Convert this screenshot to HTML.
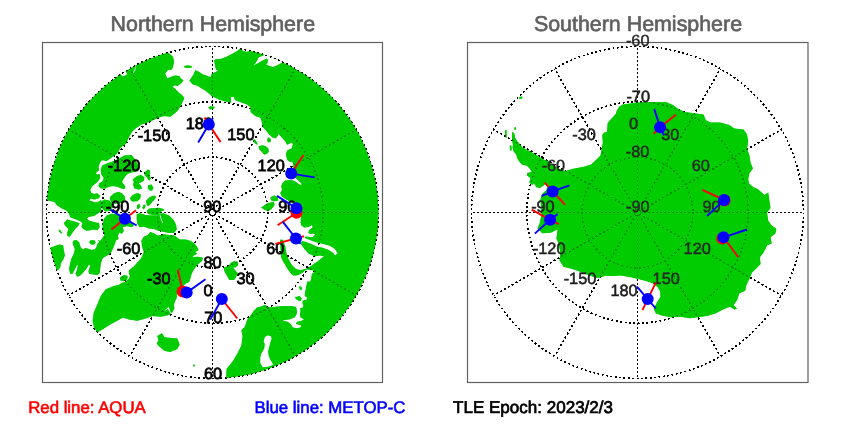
<!DOCTYPE html>
<html><head><meta charset="utf-8"><title>Hemispheres</title>
<style>
html,body{margin:0;padding:0;background:#fff;}
svg{display:block;font-family:"Liberation Sans",sans-serif;}
text{text-rendering:geometricPrecision;}
</style></head><body>
<svg width="850" height="425" viewBox="0 0 850 425">
<rect width="850" height="425" fill="#fff"/>
<defs>
<mask id="mn" maskUnits="userSpaceOnUse" x="0" y="0" width="850" height="425"><rect width="850" height="425" fill="#000"/>
<path d="M260.0,30.0 L250.0,50.8 L246.5,52.0 L242.9,50.8 L240.0,48.5 L237.6,50.8 L232.4,53.8 L226.5,56.7 L220.6,59.1 L215.9,59.1 L214.1,60.8 L215.0,65.0 L215.9,69.6 L218.2,70.8 L211.8,73.8 L210.6,77.3 L207.6,76.1 L202.9,74.4 L199.4,72.0 L195.3,70.2 L193.5,74.4 L189.4,80.8 L192.9,84.4 L197.1,85.5 L201.0,88.0 L205.9,91.0 L211.8,96.1 L218.8,99.6 L227.1,102.0 L231.2,102.6 L230.8,97.3 L233.5,96.7 L235.3,100.2 L238.8,101.4 L247.1,104.4 L250.6,107.3 L250.6,112.0 L255.3,116.0 L260.5,117.7 L261.8,122.0 L262.6,126.8 L265.5,129.8 L268.8,134.1 L272.4,137.6 L275.9,138.2 L278.8,134.1 L281.8,137.6 L285.3,141.2 L287.1,144.7 L291.8,142.4 L292.9,144.1 L291.8,148.2 L287.1,150.6 L285.9,154.5 L287.4,160.2 L290.6,162.1 L292.4,161.5 L293.5,165.6 L292.0,172.0 L295.9,177.9 L298.2,180.3 L301.2,183.2 L301.8,185.4 L299.4,184.6 L296.5,182.3 L292.9,180.6 L289.4,179.9 L285.3,180.6 L282.4,183.2 L281.2,186.2 L282.1,189.7 L280.3,193.0 L281.8,196.5 L287.1,200.0 L290.6,201.8 L296.0,206.0 L301.2,216.5 L300.6,221.8 L301.2,225.3 L304.1,227.6 L308.2,227.1 L311.8,225.3 L312.9,227.1 L309.4,230.0 L308.2,232.4 L310.6,234.1 L313.5,233.5 L315.3,234.7 L312.9,237.1 L309.4,237.1 L305.9,236.5 L304.1,238.2 L301.2,242.6 L301.2,244.4 L304.1,248.5 L308.2,253.2 L312.9,255.6 L315.3,256.2 L320.0,255.6 L324.1,256.2 L321.2,258.5 L317.6,261.5 L314.1,263.8 L310.6,266.2 L305.9,269.1 L308.2,269.7 L312.9,270.3 L314.5,272.0 L311.8,274.1 L311.2,279.4 L310.0,281.8 L307.6,281.2 L306.5,285.3 L305.3,291.2 L304.7,295.9 L307.1,297.6 L306.5,300.0 L302.9,300.6 L302.4,302.9 L298.0,304.0 L295.9,307.1 L291.2,305.9 L284.1,305.9 L277.1,306.5 L271.2,307.6 L267.6,307.1 L265.3,304.7 L261.2,306.5 L257.1,307.6 L253.5,311.2 L250.0,316.5 L247.3,319.6 L244.9,326.7 L241.4,330.2 L242.6,336.1 L241.4,345.5 L237.9,352.6 L233.2,360.8 L226.6,369.1 L226.1,378.5 L225.0,400.0 L420.0,400.0 L420.0,30.0Z" fill="#fff"/>
<path d="M253.3,65.5 L256.1,62.2 L258.5,57.5 L263.6,55.2 L266.9,54.0 L275.0,48.0 L292.0,58.0 L284.5,61.5 L283.4,62.2 L279.6,64.1 L275.9,66.0 L273.0,66.9 L269.3,66.0 L266.0,64.6 L267.4,63.2 L267.9,60.3 L266.9,58.5 L262.2,60.8 L258.0,63.2Z" fill="#000"/>
<path d="M302.4,237.0 L308.2,239.2 L315.3,242.0 L322.4,243.8 L329.4,245.6 L334.5,248.6 L337.8,253.2 L335.3,255.4 L332.5,252.5 L328.2,249.7 L322.4,247.8 L316.5,246.6 L310.6,243.8 L305.9,242.0 L302.0,241.0Z" fill="#000"/>
<path d="M303.5,305.3 L302.9,307.6 L300.0,308.2 L300.6,310.6 L300.0,314.7 L300.6,317.6 L304.1,319.2 L301.8,320.8 L297.1,321.8 L295.9,323.9 L299.4,324.7 L301.2,325.3 L300.6,327.4 L296.5,328.2 L292.9,327.6 L290.6,324.1 L287.6,321.8 L282.4,320.8 L284.1,320.0 L290.0,319.2 L294.7,317.3 L296.3,314.7 L297.0,312.4 L296.7,309.6 L295.9,307.1 L298.0,303.0 L302.4,302.9Z" fill="#000"/>
<path d="M264.7,337.1 L267.6,335.3 L270.6,335.9 L271.8,338.2 L270.6,341.8 L269.4,346.5 L268.2,351.2 L268.8,355.9 L270.6,360.0 L273.6,364.8 L268.5,366.7 L262.6,367.2 L260.2,363.2 L260.2,357.3 L261.2,353.5 L264.1,348.8 L264.7,344.1 L263.5,341.8Z" fill="#000"/>
<path d="M184.1,66.1 L188.0,65.3 L191.8,66.3 L191.5,67.8 L187.0,68.0 L184.5,67.5Z" fill="#fff"/>
<path d="M208.2,107.3 L211.0,106.2 L214.7,106.7 L214.1,108.5 L210.0,109.6Z" fill="#fff"/>
<path d="M252.7,140.0 L254.7,139.4 L257.1,142.4 L257.6,144.7 L255.9,144.1 L253.5,141.8Z" fill="#fff"/>
<path d="M267.3,138.8 L268.8,137.3 L270.8,139.4 L270.8,141.5 L268.8,142.4 L267.3,141.2Z" fill="#fff"/>
<path d="M258.6,146.5 L261.8,145.3 L265.3,145.9 L268.2,148.2 L268.8,151.8 L266.5,154.1 L264.1,154.5 L261.8,151.8 L259.4,149.4Z" fill="#fff"/>
<path d="M270.4,197.6 L274.1,195.6 L277.6,197.1 L278.2,200.6 L274.7,201.2 L271.2,200.4Z" fill="#fff"/>
<path d="M261.2,207.6 L267.1,203.5 L273.5,201.8 L274.7,204.7 L271.8,208.8 L268.2,211.2 L264.1,209.4Z" fill="#fff"/>
<path d="M280.0,239.7 L280.4,246.8 L281.2,257.4 L283.5,262.1 L287.6,269.1 L291.2,273.8 L293.5,275.6 L295.9,275.6 L299.4,274.4 L302.9,272.6 L305.3,270.3 L308.8,267.9 L305.3,269.1 L300.6,270.3 L295.9,269.1 L291.8,265.0 L288.8,259.7 L286.5,253.8 L285.3,246.8 L282.9,239.7Z" fill="#fff"/>
<path d="M299.0,286.5 L301.5,286.8 L302.0,289.5 L300.0,290.0Z" fill="#fff"/>
<path d="M294.7,297.6 L299.4,295.9 L301.8,298.2 L300.6,301.2 L297.1,300.0Z" fill="#fff"/>
<path d="M223.5,267.6 L228.8,265.9 L230.6,262.9 L234.1,261.2 L237.6,261.8 L238.2,265.3 L235.3,267.6 L232.9,267.6 L235.3,270.6 L237.6,272.9 L236.0,277.0 L234.1,280.0 L229.4,280.0 L227.1,275.9 L224.7,271.8Z" fill="#fff"/>
<path d="M150.0,30.0 L168.2,52.6 L172.9,56.7 L174.1,61.4 L172.9,67.3 L171.8,69.6 L167.6,70.2 L165.1,73.8 L167.4,78.5 L171.2,76.7 L175.3,75.5 L179.4,75.9 L180.8,78.5 L183.5,80.2 L181.2,83.2 L177.6,86.1 L174.7,85.3 L172.4,86.7 L175.3,89.1 L178.5,92.6 L182.0,94.9 L184.4,98.0 L183.2,100.8 L180.8,105.5 L178.0,110.2 L174.2,113.8 L170.2,116.8 L164.4,116.1 L159.6,117.3 L154.5,119.6 L147.9,122.5 L140.8,124.8 L134.2,129.5 L132.0,132.0 L128.5,137.9 L126.1,143.8 L122.6,146.1 L120.2,147.9 L118.5,151.4 L115.5,154.9 L112.0,157.3 L109.6,159.1 L106.1,161.2 L103.8,160.2 L101.4,160.5 L99.6,163.5 L98.5,167.0 L99.1,170.2 L96.3,172.6 L95.8,174.0 L98.0,174.5 L99.9,174.1 L100.2,178.0 L98.5,180.8 L95.5,183.5 L92.0,186.3 L90.2,190.0 L91.2,192.9 L94.4,193.9 L97.1,193.2 L100.2,196.0 L98.8,198.2 L94.4,199.6 L90.5,198.6 L89.2,200.4 L92.6,201.4 L95.2,202.6 L98.7,201.4 L101.2,200.0 L101.4,203.8 L101.4,206.7 L100.8,211.4 L97.3,213.8 L93.8,216.1 L89.1,216.7 L86.7,218.5 L89.1,220.8 L93.8,222.0 L99.1,223.2 L99.6,227.3 L97.3,230.2 L93.8,229.6 L90.2,230.2 L86.7,230.8 L83.2,229.1 L81.4,226.7 L82.6,223.2 L80.8,221.4 L76.1,219.6 L70.2,217.3 L69.1,213.8 L66.7,210.8 L62.0,208.5 L57.3,205.5 L54.4,202.0 L46.0,200.0 L20.0,200.0 L20.0,30.0Z" fill="#fff"/>
<path d="M120.5,73.2 L125.4,69.6 L126.4,72.0 L127.2,74.6 L124.0,76.0 L122.0,76.5Z" fill="#000"/>
<path d="M134.4,65.4 L135.6,66.0 L135.5,70.0 L133.3,73.3 L132.8,72.5 L134.6,69.5Z" fill="#000"/>
<path d="M102.2,165.5 L107.3,163.2 L112.6,161.4 L117.3,159.6 L124.4,155.5 L131.4,154.9 L134.4,158.5 L137.3,163.8 L139.1,169.6 L136.1,171.4 L131.4,172.6 L127.9,173.8 L125.5,176.1 L123.2,179.6 L122.0,182.0 L123.8,184.4 L125.5,186.7 L124.4,189.1 L121.4,188.5 L117.3,186.7 L112.6,186.1 L109.1,186.7 L104.9,188.5 L100.8,188.5 L98.5,186.1 L99.1,183.2 L102.6,181.4 L103.8,177.9 L101.4,174.4 L100.8,169.6Z" fill="#fff"/>
<path d="M132.6,179.6 L137.3,176.1 L140.8,174.9 L144.4,177.3 L143.8,180.8 L140.8,182.6 L138.5,183.2 L140.8,185.5 L142.0,188.5 L138.5,189.6 L134.4,188.5 L133.2,184.9 L133.8,182.0Z" fill="#fff"/>
<path d="M144.4,172.6 L147.9,169.6 L150.2,170.8 L149.6,174.9 L150.8,178.5 L149.1,180.8 L146.7,177.3 L144.9,175.5Z" fill="#fff"/>
<path d="M147.9,185.5 L151.4,184.4 L153.2,187.3 L152.6,190.2 L150.2,190.8 L147.9,188.5Z" fill="#fff"/>
<path d="M110.2,196.7 L113.8,193.4 L118.5,191.8 L122.0,193.4 L124.6,196.1 L125.1,199.3 L123.2,202.0 L119.6,203.2 L114.9,203.8 L111.4,202.6 L110.0,199.6Z" fill="#fff"/>
<path d="M130.2,197.9 L132.6,194.9 L137.3,192.9 L140.8,194.4 L140.2,198.5 L137.3,201.2 L132.6,201.6 L130.8,200.2Z" fill="#fff"/>
<path d="M146.1,200.8 L149.6,197.3 L153.8,195.5 L155.9,196.5 L155.2,198.8 L152.6,201.4 L150.8,203.8 L148.8,205.9 L146.9,205.2 L146.5,203.2Z" fill="#fff"/>
<path d="M101.4,201.4 L104.4,199.6 L109.1,200.5 L112.0,203.2 L112.6,207.3 L110.2,210.8 L105.5,211.4 L102.6,209.1 L101.4,204.9Z" fill="#fff"/>
<path d="M146.9,210.4 L149.3,208.5 L154.0,208.2 L158.7,207.8 L163.4,209.1 L163.9,210.4 L161.5,211.3 L159.6,213.2 L157.8,215.1 L154.0,215.5 L150.2,214.6 L147.4,213.2Z" fill="#fff"/>
<path d="M142.6,207.3 L143.8,204.4 L145.5,204.9 L144.9,207.9 L143.2,209.6Z" fill="#fff"/>
<path d="M137.3,204.9 L139.6,203.8 L140.2,206.7 L138.5,209.1 L136.7,208.5Z" fill="#fff"/>
<path d="M136.7,214.4 L139.6,213.2 L145.5,214.9 L151.4,215.5 L157.3,215.5 L159.6,213.8 L163.2,213.2 L169.1,215.5 L173.8,220.2 L176.1,224.9 L176.7,229.6 L173.8,232.9 L169.1,232.9 L163.2,231.8 L158.5,230.8 L153.8,229.1 L149.1,228.5 L144.4,226.7 L139.6,227.3 L137.3,223.8 L136.7,219.1Z" fill="#fff"/>
<path d="M159.4,214.8 L160.3,214.4 L162.0,220.0 L163.5,223.3 L162.7,223.6 L161.0,220.2Z" fill="#000"/>
<path d="M103.8,219.1 L106.7,215.5 L111.4,213.8 L117.3,214.4 L122.0,215.5 L129.1,219.1 L133.8,226.1 L131.4,227.3 L127.3,226.1 L122.6,227.3 L123.8,230.8 L122.0,233.8 L119.1,232.6 L117.9,236.1 L118.5,239.0 L116.1,240.2 L114.4,244.9 L112.6,249.6 L110.2,253.8 L107.3,255.5 L103.8,257.3 L102.0,259.6 L100.8,263.8 L100.2,268.5 L99.6,273.2 L97.3,274.9 L93.8,274.4 L89.1,273.8 L88.5,271.4 L90.2,265.5 L89.1,264.4 L86.1,269.1 L83.2,272.6 L80.2,275.5 L77.3,276.7 L75.5,273.8 L77.3,269.1 L77.9,264.4 L76.7,265.5 L74.9,269.1 L72.6,273.8 L70.2,273.8 L69.1,269.1 L70.2,263.2 L71.4,258.5 L73.8,253.8 L74.9,249.1 L73.3,245.3 L72.6,242.5 L74.0,240.3 L76.8,240.3 L79.3,242.5 L79.6,244.6 L81.1,248.1 L83.2,249.5 L85.3,248.1 L88.1,248.8 L91.6,249.9 L95.2,249.2 L96.6,246.7 L97.3,243.9 L99.4,241.8 L98.0,240.3 L100.5,240.7 L102.2,238.2 L104.3,235.4 L103.6,232.6 L102.6,228.4 L102.6,224.9Z" fill="#fff"/>
<path d="M63.8,223.2 L67.3,219.6 L71.4,220.8 L76.1,222.0 L79.6,223.2 L78.5,225.5 L75.5,228.5 L72.6,232.6 L69.6,236.7 L67.3,236.1 L67.3,232.6 L68.5,229.1 L65.5,226.1Z" fill="#fff"/>
<path d="M58.5,229.6 L60.2,230.2 L62.6,233.2 L60.8,233.2 L59.1,231.4Z" fill="#fff"/>
<path d="M89.2,242.3 L90.3,240.5 L92.4,240.0 L94.6,240.6 L95.6,242.3 L94.6,244.2 L92.4,244.7 L90.3,244.1Z" fill="#fff"/>
<path d="M49.6,247.9 L54.9,246.1 L59.6,244.4 L63.2,245.5 L63.8,250.2 L64.9,255.5 L63.2,259.6 L60.8,263.2 L60.2,267.3 L58.5,269.6 L56.7,270.8 L49.1,272.6 L42.0,253.8 L44.4,246.7Z" fill="#fff"/>
<path d="M137.9,262.0 L141.4,257.9 L143.8,252.0 L142.0,246.1 L141.4,240.8 L143.8,236.7 L147.9,234.9 L150.2,232.0 L153.8,233.2 L157.3,235.5 L161.4,234.9 L163.2,234.2 L169.1,235.0 L173.8,235.2 L176.1,236.7 L179.6,239.6 L185.5,239.6 L190.2,240.8 L194.9,243.8 L197.3,247.3 L198.5,250.2 L194.9,252.0 L197.3,253.8 L193.8,255.5 L192.6,257.3 L197.3,256.7 L200.8,257.3 L203.2,257.9 L202.0,260.8 L197.3,264.9 L193.8,269.6 L191.4,274.4 L190.2,279.1 L189.1,282.0 L186.1,283.2 L182.0,287.0 L177.3,292.0 L176.7,297.9 L174.9,301.4 L173.8,304.9 L174.4,308.5 L172.6,312.0 L169.1,314.9 L160.8,316.7 L152.6,316.1 L145.5,318.5 L137.3,320.8 L129.1,319.6 L123.0,317.4 L117.3,320.8 L110.2,324.4 L103.2,329.1 L97.3,332.6 L94.2,327.9 L92.6,320.8 L93.8,312.6 L97.3,304.4 L100.8,296.1 L105.5,289.6 L109.0,288.0 L113.8,286.1 L118.5,284.9 L122.0,282.8 L124.4,282.3 L129.0,278.8 L129.9,276.1 L128.8,273.2 L129.0,270.2 L133.8,266.5 L136.0,264.0Z" fill="#fff"/>
<path d="M164.5,310.4 L168.3,307.0 L169.2,307.5 L170.0,310.8 L171.8,313.6 L171.0,314.0 L169.0,311.2 L167.8,308.8 L165.0,311.0Z" fill="#000"/>
<path d="M120.2,277.3 L124.4,274.9 L127.7,276.1 L127.2,279.4 L123.2,281.2 L120.2,280.2Z" fill="#fff"/>
<path d="M157.3,336.1 L162.0,333.3 L164.4,337.3 L171.4,338.0 L177.3,338.5 L179.6,344.4 L177.3,349.1 L170.2,351.9 L164.4,350.7 L159.6,346.7 L156.6,343.6 L158.5,340.4Z" fill="#fff"/>
<path d="M193.0,364.8 L194.8,364.8 L194.8,366.3 L193.0,366.3Z" fill="#fff"/>
</mask>
<mask id="ms" maskUnits="userSpaceOnUse" x="0" y="0" width="850" height="425"><rect width="850" height="425" fill="#000"/>
<path d="M512.5,131.8 L514.4,133.6 L514.9,137.4 L517.2,141.2 L520.5,144.9 L522.0,147.3 L525.2,148.9 L529.9,151.2 L534.6,154.1 L539.4,156.9 L544.1,159.7 L546.9,160.6 L552.0,164.5 L558.0,168.5 L565.7,171.0 L570.4,169.6 L574.6,168.5 L584.1,166.8 L591.1,164.5 L595.8,160.2 L600.5,155.5 L601.7,148.5 L602.9,142.6 L602.5,138.0 L602.2,135.0 L604.1,132.6 L606.9,132.2 L607.4,127.5 L607.6,123.2 L610.2,119.9 L613.1,117.1 L615.9,113.8 L616.8,110.5 L619.2,106.8 L622.9,104.4 L628.8,103.8 L638.2,102.6 L647.6,101.9 L657.0,101.9 L666.4,102.3 L672.9,104.9 L677.6,108.5 L684.6,112.0 L694.1,113.2 L703.5,114.4 L705.8,120.2 L710.5,122.6 L719.9,122.6 L729.4,124.9 L734.1,128.5 L743.5,129.6 L747.0,134.4 L748.2,141.4 L747.0,148.5 L749.4,155.5 L750.5,162.6 L752.9,168.5 L749.4,173.2 L748.2,179.1 L749.0,183.5 L753.0,187.0 L757.6,189.1 L764.6,194.9 L768.2,192.6 L769.4,200.8 L770.5,207.9 L767.0,212.6 L768.2,220.8 L771.7,225.5 L776.4,229.1 L775.2,233.8 L770.5,237.3 L771.7,243.2 L767.0,245.5 L763.5,252.6 L759.9,257.3 L760.5,264.0 L756.2,268.5 L752.0,272.4 L749.6,278.5 L746.4,284.9 L745.2,290.8 L739.4,293.2 L737.0,300.2 L733.5,304.9 L737.0,308.5 L734.6,309.6 L729.9,306.8 L722.9,309.6 L715.8,313.2 L708.8,315.5 L699.4,316.9 L689.9,318.2 L680.5,316.8 L671.1,317.2 L661.7,315.5 L655.8,313.2 L653.7,308.5 L657.0,302.6 L660.5,296.7 L660.0,290.8 L657.0,286.5 L652.3,282.9 L645.2,280.8 L638.2,279.1 L629.9,276.9 L620.5,275.5 L612.3,276.0 L605.2,275.8 L600.5,277.5 L596.4,277.9 L587.0,274.4 L577.6,270.8 L570.5,268.5 L563.5,266.8 L559.5,260.2 L560.5,253.2 L558.5,243.2 L556.4,238.5 L557.6,229.6 L550.5,232.7 L542.3,233.2 L537.6,228.5 L539.9,222.6 L541.5,214.4 L541.1,207.3 L540.5,199.1 L542.3,193.8 L546.0,190.5 L547.5,187.0 L545.8,183.8 L543.5,185.5 L539.9,187.9 L536.4,187.3 L534.1,183.2 L532.3,184.9 L529.4,182.6 L530.5,177.9 L527.0,175.5 L527.1,172.9 L531.8,171.9 L530.4,169.6 L527.1,165.8 L521.9,164.4 L519.6,162.1 L517.2,158.3 L516.3,154.5 L513.5,151.2 L512.5,147.0 L513.0,144.9 L512.1,140.2 L512.1,133.6Z" fill="#fff"/>
<path d="M509.7,145.6 L511.4,145.4 L511.6,150.4 L510.0,150.6Z" fill="#fff"/>
<path d="M505.0,130.0 L506.5,130.0 L506.8,137.5 L505.3,137.5Z" fill="#fff"/>
<path d="M514.4,127.2 L516.0,127.2 L516.0,129.8 L514.4,129.8Z" fill="#fff"/>
<path d="M519.2,97.0 L522.2,96.6 L522.3,98.6 L519.4,99.0Z" fill="#fff"/>
</mask>
<clipPath id="cn"><circle cx="212.5" cy="212.5" r="166"/></clipPath>
<clipPath id="cs"><circle cx="637.5" cy="212.5" r="166"/></clipPath>
</defs>
<g clip-path="url(#cn)">
<path d="M260.0,30.0 L250.0,50.8 L246.5,52.0 L242.9,50.8 L240.0,48.5 L237.6,50.8 L232.4,53.8 L226.5,56.7 L220.6,59.1 L215.9,59.1 L214.1,60.8 L215.0,65.0 L215.9,69.6 L218.2,70.8 L211.8,73.8 L210.6,77.3 L207.6,76.1 L202.9,74.4 L199.4,72.0 L195.3,70.2 L193.5,74.4 L189.4,80.8 L192.9,84.4 L197.1,85.5 L201.0,88.0 L205.9,91.0 L211.8,96.1 L218.8,99.6 L227.1,102.0 L231.2,102.6 L230.8,97.3 L233.5,96.7 L235.3,100.2 L238.8,101.4 L247.1,104.4 L250.6,107.3 L250.6,112.0 L255.3,116.0 L260.5,117.7 L261.8,122.0 L262.6,126.8 L265.5,129.8 L268.8,134.1 L272.4,137.6 L275.9,138.2 L278.8,134.1 L281.8,137.6 L285.3,141.2 L287.1,144.7 L291.8,142.4 L292.9,144.1 L291.8,148.2 L287.1,150.6 L285.9,154.5 L287.4,160.2 L290.6,162.1 L292.4,161.5 L293.5,165.6 L292.0,172.0 L295.9,177.9 L298.2,180.3 L301.2,183.2 L301.8,185.4 L299.4,184.6 L296.5,182.3 L292.9,180.6 L289.4,179.9 L285.3,180.6 L282.4,183.2 L281.2,186.2 L282.1,189.7 L280.3,193.0 L281.8,196.5 L287.1,200.0 L290.6,201.8 L296.0,206.0 L301.2,216.5 L300.6,221.8 L301.2,225.3 L304.1,227.6 L308.2,227.1 L311.8,225.3 L312.9,227.1 L309.4,230.0 L308.2,232.4 L310.6,234.1 L313.5,233.5 L315.3,234.7 L312.9,237.1 L309.4,237.1 L305.9,236.5 L304.1,238.2 L301.2,242.6 L301.2,244.4 L304.1,248.5 L308.2,253.2 L312.9,255.6 L315.3,256.2 L320.0,255.6 L324.1,256.2 L321.2,258.5 L317.6,261.5 L314.1,263.8 L310.6,266.2 L305.9,269.1 L308.2,269.7 L312.9,270.3 L314.5,272.0 L311.8,274.1 L311.2,279.4 L310.0,281.8 L307.6,281.2 L306.5,285.3 L305.3,291.2 L304.7,295.9 L307.1,297.6 L306.5,300.0 L302.9,300.6 L302.4,302.9 L298.0,304.0 L295.9,307.1 L291.2,305.9 L284.1,305.9 L277.1,306.5 L271.2,307.6 L267.6,307.1 L265.3,304.7 L261.2,306.5 L257.1,307.6 L253.5,311.2 L250.0,316.5 L247.3,319.6 L244.9,326.7 L241.4,330.2 L242.6,336.1 L241.4,345.5 L237.9,352.6 L233.2,360.8 L226.6,369.1 L226.1,378.5 L225.0,400.0 L420.0,400.0 L420.0,30.0Z" fill="#00cc00"/>
<path d="M253.3,65.5 L256.1,62.2 L258.5,57.5 L263.6,55.2 L266.9,54.0 L275.0,48.0 L292.0,58.0 L284.5,61.5 L283.4,62.2 L279.6,64.1 L275.9,66.0 L273.0,66.9 L269.3,66.0 L266.0,64.6 L267.4,63.2 L267.9,60.3 L266.9,58.5 L262.2,60.8 L258.0,63.2Z" fill="#ffffff"/>
<path d="M302.4,237.0 L308.2,239.2 L315.3,242.0 L322.4,243.8 L329.4,245.6 L334.5,248.6 L337.8,253.2 L335.3,255.4 L332.5,252.5 L328.2,249.7 L322.4,247.8 L316.5,246.6 L310.6,243.8 L305.9,242.0 L302.0,241.0Z" fill="#ffffff"/>
<path d="M303.5,305.3 L302.9,307.6 L300.0,308.2 L300.6,310.6 L300.0,314.7 L300.6,317.6 L304.1,319.2 L301.8,320.8 L297.1,321.8 L295.9,323.9 L299.4,324.7 L301.2,325.3 L300.6,327.4 L296.5,328.2 L292.9,327.6 L290.6,324.1 L287.6,321.8 L282.4,320.8 L284.1,320.0 L290.0,319.2 L294.7,317.3 L296.3,314.7 L297.0,312.4 L296.7,309.6 L295.9,307.1 L298.0,303.0 L302.4,302.9Z" fill="#ffffff"/>
<path d="M264.7,337.1 L267.6,335.3 L270.6,335.9 L271.8,338.2 L270.6,341.8 L269.4,346.5 L268.2,351.2 L268.8,355.9 L270.6,360.0 L273.6,364.8 L268.5,366.7 L262.6,367.2 L260.2,363.2 L260.2,357.3 L261.2,353.5 L264.1,348.8 L264.7,344.1 L263.5,341.8Z" fill="#ffffff"/>
<path d="M184.1,66.1 L188.0,65.3 L191.8,66.3 L191.5,67.8 L187.0,68.0 L184.5,67.5Z" fill="#00cc00"/>
<path d="M208.2,107.3 L211.0,106.2 L214.7,106.7 L214.1,108.5 L210.0,109.6Z" fill="#00cc00"/>
<path d="M252.7,140.0 L254.7,139.4 L257.1,142.4 L257.6,144.7 L255.9,144.1 L253.5,141.8Z" fill="#00cc00"/>
<path d="M267.3,138.8 L268.8,137.3 L270.8,139.4 L270.8,141.5 L268.8,142.4 L267.3,141.2Z" fill="#00cc00"/>
<path d="M258.6,146.5 L261.8,145.3 L265.3,145.9 L268.2,148.2 L268.8,151.8 L266.5,154.1 L264.1,154.5 L261.8,151.8 L259.4,149.4Z" fill="#00cc00"/>
<path d="M270.4,197.6 L274.1,195.6 L277.6,197.1 L278.2,200.6 L274.7,201.2 L271.2,200.4Z" fill="#00cc00"/>
<path d="M261.2,207.6 L267.1,203.5 L273.5,201.8 L274.7,204.7 L271.8,208.8 L268.2,211.2 L264.1,209.4Z" fill="#00cc00"/>
<path d="M280.0,239.7 L280.4,246.8 L281.2,257.4 L283.5,262.1 L287.6,269.1 L291.2,273.8 L293.5,275.6 L295.9,275.6 L299.4,274.4 L302.9,272.6 L305.3,270.3 L308.8,267.9 L305.3,269.1 L300.6,270.3 L295.9,269.1 L291.8,265.0 L288.8,259.7 L286.5,253.8 L285.3,246.8 L282.9,239.7Z" fill="#00cc00"/>
<path d="M299.0,286.5 L301.5,286.8 L302.0,289.5 L300.0,290.0Z" fill="#00cc00"/>
<path d="M294.7,297.6 L299.4,295.9 L301.8,298.2 L300.6,301.2 L297.1,300.0Z" fill="#00cc00"/>
<path d="M223.5,267.6 L228.8,265.9 L230.6,262.9 L234.1,261.2 L237.6,261.8 L238.2,265.3 L235.3,267.6 L232.9,267.6 L235.3,270.6 L237.6,272.9 L236.0,277.0 L234.1,280.0 L229.4,280.0 L227.1,275.9 L224.7,271.8Z" fill="#00cc00"/>
<path d="M150.0,30.0 L168.2,52.6 L172.9,56.7 L174.1,61.4 L172.9,67.3 L171.8,69.6 L167.6,70.2 L165.1,73.8 L167.4,78.5 L171.2,76.7 L175.3,75.5 L179.4,75.9 L180.8,78.5 L183.5,80.2 L181.2,83.2 L177.6,86.1 L174.7,85.3 L172.4,86.7 L175.3,89.1 L178.5,92.6 L182.0,94.9 L184.4,98.0 L183.2,100.8 L180.8,105.5 L178.0,110.2 L174.2,113.8 L170.2,116.8 L164.4,116.1 L159.6,117.3 L154.5,119.6 L147.9,122.5 L140.8,124.8 L134.2,129.5 L132.0,132.0 L128.5,137.9 L126.1,143.8 L122.6,146.1 L120.2,147.9 L118.5,151.4 L115.5,154.9 L112.0,157.3 L109.6,159.1 L106.1,161.2 L103.8,160.2 L101.4,160.5 L99.6,163.5 L98.5,167.0 L99.1,170.2 L96.3,172.6 L95.8,174.0 L98.0,174.5 L99.9,174.1 L100.2,178.0 L98.5,180.8 L95.5,183.5 L92.0,186.3 L90.2,190.0 L91.2,192.9 L94.4,193.9 L97.1,193.2 L100.2,196.0 L98.8,198.2 L94.4,199.6 L90.5,198.6 L89.2,200.4 L92.6,201.4 L95.2,202.6 L98.7,201.4 L101.2,200.0 L101.4,203.8 L101.4,206.7 L100.8,211.4 L97.3,213.8 L93.8,216.1 L89.1,216.7 L86.7,218.5 L89.1,220.8 L93.8,222.0 L99.1,223.2 L99.6,227.3 L97.3,230.2 L93.8,229.6 L90.2,230.2 L86.7,230.8 L83.2,229.1 L81.4,226.7 L82.6,223.2 L80.8,221.4 L76.1,219.6 L70.2,217.3 L69.1,213.8 L66.7,210.8 L62.0,208.5 L57.3,205.5 L54.4,202.0 L46.0,200.0 L20.0,200.0 L20.0,30.0Z" fill="#00cc00"/>
<path d="M120.5,73.2 L125.4,69.6 L126.4,72.0 L127.2,74.6 L124.0,76.0 L122.0,76.5Z" fill="#ffffff"/>
<path d="M134.4,65.4 L135.6,66.0 L135.5,70.0 L133.3,73.3 L132.8,72.5 L134.6,69.5Z" fill="#ffffff"/>
<path d="M102.2,165.5 L107.3,163.2 L112.6,161.4 L117.3,159.6 L124.4,155.5 L131.4,154.9 L134.4,158.5 L137.3,163.8 L139.1,169.6 L136.1,171.4 L131.4,172.6 L127.9,173.8 L125.5,176.1 L123.2,179.6 L122.0,182.0 L123.8,184.4 L125.5,186.7 L124.4,189.1 L121.4,188.5 L117.3,186.7 L112.6,186.1 L109.1,186.7 L104.9,188.5 L100.8,188.5 L98.5,186.1 L99.1,183.2 L102.6,181.4 L103.8,177.9 L101.4,174.4 L100.8,169.6Z" fill="#00cc00"/>
<path d="M132.6,179.6 L137.3,176.1 L140.8,174.9 L144.4,177.3 L143.8,180.8 L140.8,182.6 L138.5,183.2 L140.8,185.5 L142.0,188.5 L138.5,189.6 L134.4,188.5 L133.2,184.9 L133.8,182.0Z" fill="#00cc00"/>
<path d="M144.4,172.6 L147.9,169.6 L150.2,170.8 L149.6,174.9 L150.8,178.5 L149.1,180.8 L146.7,177.3 L144.9,175.5Z" fill="#00cc00"/>
<path d="M147.9,185.5 L151.4,184.4 L153.2,187.3 L152.6,190.2 L150.2,190.8 L147.9,188.5Z" fill="#00cc00"/>
<path d="M110.2,196.7 L113.8,193.4 L118.5,191.8 L122.0,193.4 L124.6,196.1 L125.1,199.3 L123.2,202.0 L119.6,203.2 L114.9,203.8 L111.4,202.6 L110.0,199.6Z" fill="#00cc00"/>
<path d="M130.2,197.9 L132.6,194.9 L137.3,192.9 L140.8,194.4 L140.2,198.5 L137.3,201.2 L132.6,201.6 L130.8,200.2Z" fill="#00cc00"/>
<path d="M146.1,200.8 L149.6,197.3 L153.8,195.5 L155.9,196.5 L155.2,198.8 L152.6,201.4 L150.8,203.8 L148.8,205.9 L146.9,205.2 L146.5,203.2Z" fill="#00cc00"/>
<path d="M101.4,201.4 L104.4,199.6 L109.1,200.5 L112.0,203.2 L112.6,207.3 L110.2,210.8 L105.5,211.4 L102.6,209.1 L101.4,204.9Z" fill="#00cc00"/>
<path d="M146.9,210.4 L149.3,208.5 L154.0,208.2 L158.7,207.8 L163.4,209.1 L163.9,210.4 L161.5,211.3 L159.6,213.2 L157.8,215.1 L154.0,215.5 L150.2,214.6 L147.4,213.2Z" fill="#00cc00"/>
<path d="M142.6,207.3 L143.8,204.4 L145.5,204.9 L144.9,207.9 L143.2,209.6Z" fill="#00cc00"/>
<path d="M137.3,204.9 L139.6,203.8 L140.2,206.7 L138.5,209.1 L136.7,208.5Z" fill="#00cc00"/>
<path d="M136.7,214.4 L139.6,213.2 L145.5,214.9 L151.4,215.5 L157.3,215.5 L159.6,213.8 L163.2,213.2 L169.1,215.5 L173.8,220.2 L176.1,224.9 L176.7,229.6 L173.8,232.9 L169.1,232.9 L163.2,231.8 L158.5,230.8 L153.8,229.1 L149.1,228.5 L144.4,226.7 L139.6,227.3 L137.3,223.8 L136.7,219.1Z" fill="#00cc00"/>
<path d="M159.4,214.8 L160.3,214.4 L162.0,220.0 L163.5,223.3 L162.7,223.6 L161.0,220.2Z" fill="#ffffff"/>
<path d="M103.8,219.1 L106.7,215.5 L111.4,213.8 L117.3,214.4 L122.0,215.5 L129.1,219.1 L133.8,226.1 L131.4,227.3 L127.3,226.1 L122.6,227.3 L123.8,230.8 L122.0,233.8 L119.1,232.6 L117.9,236.1 L118.5,239.0 L116.1,240.2 L114.4,244.9 L112.6,249.6 L110.2,253.8 L107.3,255.5 L103.8,257.3 L102.0,259.6 L100.8,263.8 L100.2,268.5 L99.6,273.2 L97.3,274.9 L93.8,274.4 L89.1,273.8 L88.5,271.4 L90.2,265.5 L89.1,264.4 L86.1,269.1 L83.2,272.6 L80.2,275.5 L77.3,276.7 L75.5,273.8 L77.3,269.1 L77.9,264.4 L76.7,265.5 L74.9,269.1 L72.6,273.8 L70.2,273.8 L69.1,269.1 L70.2,263.2 L71.4,258.5 L73.8,253.8 L74.9,249.1 L73.3,245.3 L72.6,242.5 L74.0,240.3 L76.8,240.3 L79.3,242.5 L79.6,244.6 L81.1,248.1 L83.2,249.5 L85.3,248.1 L88.1,248.8 L91.6,249.9 L95.2,249.2 L96.6,246.7 L97.3,243.9 L99.4,241.8 L98.0,240.3 L100.5,240.7 L102.2,238.2 L104.3,235.4 L103.6,232.6 L102.6,228.4 L102.6,224.9Z" fill="#00cc00"/>
<path d="M63.8,223.2 L67.3,219.6 L71.4,220.8 L76.1,222.0 L79.6,223.2 L78.5,225.5 L75.5,228.5 L72.6,232.6 L69.6,236.7 L67.3,236.1 L67.3,232.6 L68.5,229.1 L65.5,226.1Z" fill="#00cc00"/>
<path d="M58.5,229.6 L60.2,230.2 L62.6,233.2 L60.8,233.2 L59.1,231.4Z" fill="#00cc00"/>
<path d="M89.2,242.3 L90.3,240.5 L92.4,240.0 L94.6,240.6 L95.6,242.3 L94.6,244.2 L92.4,244.7 L90.3,244.1Z" fill="#00cc00"/>
<path d="M49.6,247.9 L54.9,246.1 L59.6,244.4 L63.2,245.5 L63.8,250.2 L64.9,255.5 L63.2,259.6 L60.8,263.2 L60.2,267.3 L58.5,269.6 L56.7,270.8 L49.1,272.6 L42.0,253.8 L44.4,246.7Z" fill="#00cc00"/>
<path d="M137.9,262.0 L141.4,257.9 L143.8,252.0 L142.0,246.1 L141.4,240.8 L143.8,236.7 L147.9,234.9 L150.2,232.0 L153.8,233.2 L157.3,235.5 L161.4,234.9 L163.2,234.2 L169.1,235.0 L173.8,235.2 L176.1,236.7 L179.6,239.6 L185.5,239.6 L190.2,240.8 L194.9,243.8 L197.3,247.3 L198.5,250.2 L194.9,252.0 L197.3,253.8 L193.8,255.5 L192.6,257.3 L197.3,256.7 L200.8,257.3 L203.2,257.9 L202.0,260.8 L197.3,264.9 L193.8,269.6 L191.4,274.4 L190.2,279.1 L189.1,282.0 L186.1,283.2 L182.0,287.0 L177.3,292.0 L176.7,297.9 L174.9,301.4 L173.8,304.9 L174.4,308.5 L172.6,312.0 L169.1,314.9 L160.8,316.7 L152.6,316.1 L145.5,318.5 L137.3,320.8 L129.1,319.6 L123.0,317.4 L117.3,320.8 L110.2,324.4 L103.2,329.1 L97.3,332.6 L94.2,327.9 L92.6,320.8 L93.8,312.6 L97.3,304.4 L100.8,296.1 L105.5,289.6 L109.0,288.0 L113.8,286.1 L118.5,284.9 L122.0,282.8 L124.4,282.3 L129.0,278.8 L129.9,276.1 L128.8,273.2 L129.0,270.2 L133.8,266.5 L136.0,264.0Z" fill="#00cc00"/>
<path d="M164.5,310.4 L168.3,307.0 L169.2,307.5 L170.0,310.8 L171.8,313.6 L171.0,314.0 L169.0,311.2 L167.8,308.8 L165.0,311.0Z" fill="#ffffff"/>
<path d="M120.2,277.3 L124.4,274.9 L127.7,276.1 L127.2,279.4 L123.2,281.2 L120.2,280.2Z" fill="#00cc00"/>
<path d="M157.3,336.1 L162.0,333.3 L164.4,337.3 L171.4,338.0 L177.3,338.5 L179.6,344.4 L177.3,349.1 L170.2,351.9 L164.4,350.7 L159.6,346.7 L156.6,343.6 L158.5,340.4Z" fill="#00cc00"/>
<path d="M193.0,364.8 L194.8,364.8 L194.8,366.3 L193.0,366.3Z" fill="#00cc00"/>
</g>
<g clip-path="url(#cs)">
<path d="M512.5,131.8 L514.4,133.6 L514.9,137.4 L517.2,141.2 L520.5,144.9 L522.0,147.3 L525.2,148.9 L529.9,151.2 L534.6,154.1 L539.4,156.9 L544.1,159.7 L546.9,160.6 L552.0,164.5 L558.0,168.5 L565.7,171.0 L570.4,169.6 L574.6,168.5 L584.1,166.8 L591.1,164.5 L595.8,160.2 L600.5,155.5 L601.7,148.5 L602.9,142.6 L602.5,138.0 L602.2,135.0 L604.1,132.6 L606.9,132.2 L607.4,127.5 L607.6,123.2 L610.2,119.9 L613.1,117.1 L615.9,113.8 L616.8,110.5 L619.2,106.8 L622.9,104.4 L628.8,103.8 L638.2,102.6 L647.6,101.9 L657.0,101.9 L666.4,102.3 L672.9,104.9 L677.6,108.5 L684.6,112.0 L694.1,113.2 L703.5,114.4 L705.8,120.2 L710.5,122.6 L719.9,122.6 L729.4,124.9 L734.1,128.5 L743.5,129.6 L747.0,134.4 L748.2,141.4 L747.0,148.5 L749.4,155.5 L750.5,162.6 L752.9,168.5 L749.4,173.2 L748.2,179.1 L749.0,183.5 L753.0,187.0 L757.6,189.1 L764.6,194.9 L768.2,192.6 L769.4,200.8 L770.5,207.9 L767.0,212.6 L768.2,220.8 L771.7,225.5 L776.4,229.1 L775.2,233.8 L770.5,237.3 L771.7,243.2 L767.0,245.5 L763.5,252.6 L759.9,257.3 L760.5,264.0 L756.2,268.5 L752.0,272.4 L749.6,278.5 L746.4,284.9 L745.2,290.8 L739.4,293.2 L737.0,300.2 L733.5,304.9 L737.0,308.5 L734.6,309.6 L729.9,306.8 L722.9,309.6 L715.8,313.2 L708.8,315.5 L699.4,316.9 L689.9,318.2 L680.5,316.8 L671.1,317.2 L661.7,315.5 L655.8,313.2 L653.7,308.5 L657.0,302.6 L660.5,296.7 L660.0,290.8 L657.0,286.5 L652.3,282.9 L645.2,280.8 L638.2,279.1 L629.9,276.9 L620.5,275.5 L612.3,276.0 L605.2,275.8 L600.5,277.5 L596.4,277.9 L587.0,274.4 L577.6,270.8 L570.5,268.5 L563.5,266.8 L559.5,260.2 L560.5,253.2 L558.5,243.2 L556.4,238.5 L557.6,229.6 L550.5,232.7 L542.3,233.2 L537.6,228.5 L539.9,222.6 L541.5,214.4 L541.1,207.3 L540.5,199.1 L542.3,193.8 L546.0,190.5 L547.5,187.0 L545.8,183.8 L543.5,185.5 L539.9,187.9 L536.4,187.3 L534.1,183.2 L532.3,184.9 L529.4,182.6 L530.5,177.9 L527.0,175.5 L527.1,172.9 L531.8,171.9 L530.4,169.6 L527.1,165.8 L521.9,164.4 L519.6,162.1 L517.2,158.3 L516.3,154.5 L513.5,151.2 L512.5,147.0 L513.0,144.9 L512.1,140.2 L512.1,133.6Z" fill="#00cc00"/>
<path d="M509.7,145.6 L511.4,145.4 L511.6,150.4 L510.0,150.6Z" fill="#00cc00"/>
<path d="M505.0,130.0 L506.5,130.0 L506.8,137.5 L505.3,137.5Z" fill="#00cc00"/>
<path d="M514.4,127.2 L516.0,127.2 L516.0,129.8 L514.4,129.8Z" fill="#00cc00"/>
<path d="M519.2,97.0 L522.2,96.6 L522.3,98.6 L519.4,99.0Z" fill="#00cc00"/>
</g>
<circle cx="212.5" cy="212.5" r="55.33" stroke="#000" stroke-width="1.7" stroke-dasharray="1.9 2.5" fill="none" shape-rendering="crispEdges"/>
<circle cx="212.5" cy="212.5" r="110.67" stroke="#000" stroke-width="1.7" stroke-dasharray="1.9 2.5" fill="none" shape-rendering="crispEdges"/>
<circle cx="212.5" cy="212.5" r="166.00" stroke="#000" stroke-width="1.7" stroke-dasharray="1.9 2.5" fill="none" shape-rendering="crispEdges"/>
<line x1="212.50" y1="210.00" x2="212.50" y2="46.50" stroke="#000" stroke-width="1" stroke-dasharray="2 2" fill="none" shape-rendering="crispEdges"/>
<line x1="213.75" y1="210.33" x2="295.50" y2="68.74" stroke="#000" stroke-width="1.7" stroke-dasharray="1.9 2.5" fill="none" shape-rendering="crispEdges"/>
<line x1="214.67" y1="211.25" x2="356.26" y2="129.50" stroke="#000" stroke-width="1.7" stroke-dasharray="1.9 2.5" fill="none" shape-rendering="crispEdges"/>
<line x1="215.00" y1="212.50" x2="378.50" y2="212.50" stroke="#000" stroke-width="1" stroke-dasharray="2 2" fill="none" shape-rendering="crispEdges"/>
<line x1="214.67" y1="213.75" x2="356.26" y2="295.50" stroke="#000" stroke-width="1.7" stroke-dasharray="1.9 2.5" fill="none" shape-rendering="crispEdges"/>
<line x1="213.75" y1="214.67" x2="295.50" y2="356.26" stroke="#000" stroke-width="1.7" stroke-dasharray="1.9 2.5" fill="none" shape-rendering="crispEdges"/>
<line x1="212.50" y1="215.00" x2="212.50" y2="378.50" stroke="#000" stroke-width="1" stroke-dasharray="2 2" fill="none" shape-rendering="crispEdges"/>
<line x1="211.25" y1="214.67" x2="129.50" y2="356.26" stroke="#000" stroke-width="1.7" stroke-dasharray="1.9 2.5" fill="none" shape-rendering="crispEdges"/>
<line x1="210.33" y1="213.75" x2="68.74" y2="295.50" stroke="#000" stroke-width="1.7" stroke-dasharray="1.9 2.5" fill="none" shape-rendering="crispEdges"/>
<line x1="210.00" y1="212.50" x2="46.50" y2="212.50" stroke="#000" stroke-width="1" stroke-dasharray="2 2" fill="none" shape-rendering="crispEdges"/>
<line x1="210.33" y1="211.25" x2="68.74" y2="129.50" stroke="#000" stroke-width="1.7" stroke-dasharray="1.9 2.5" fill="none" shape-rendering="crispEdges"/>
<line x1="211.25" y1="210.33" x2="129.50" y2="68.74" stroke="#000" stroke-width="1.7" stroke-dasharray="1.9 2.5" fill="none" shape-rendering="crispEdges"/>
<circle cx="637.5" cy="212.5" r="55.33" stroke="#000" stroke-width="1.7" stroke-dasharray="1.9 2.5" fill="none" shape-rendering="crispEdges"/>
<circle cx="637.5" cy="212.5" r="110.67" stroke="#000" stroke-width="1.7" stroke-dasharray="1.9 2.5" fill="none" shape-rendering="crispEdges"/>
<circle cx="637.5" cy="212.5" r="166.00" stroke="#000" stroke-width="1.7" stroke-dasharray="1.9 2.5" fill="none" shape-rendering="crispEdges"/>
<line x1="637.50" y1="210.00" x2="637.50" y2="46.50" stroke="#000" stroke-width="1" stroke-dasharray="2 2" fill="none" shape-rendering="crispEdges"/>
<line x1="638.75" y1="210.33" x2="720.50" y2="68.74" stroke="#000" stroke-width="1.7" stroke-dasharray="1.9 2.5" fill="none" shape-rendering="crispEdges"/>
<line x1="639.67" y1="211.25" x2="781.26" y2="129.50" stroke="#000" stroke-width="1.7" stroke-dasharray="1.9 2.5" fill="none" shape-rendering="crispEdges"/>
<line x1="640.00" y1="212.50" x2="803.50" y2="212.50" stroke="#000" stroke-width="1" stroke-dasharray="2 2" fill="none" shape-rendering="crispEdges"/>
<line x1="639.67" y1="213.75" x2="781.26" y2="295.50" stroke="#000" stroke-width="1.7" stroke-dasharray="1.9 2.5" fill="none" shape-rendering="crispEdges"/>
<line x1="638.75" y1="214.67" x2="720.50" y2="356.26" stroke="#000" stroke-width="1.7" stroke-dasharray="1.9 2.5" fill="none" shape-rendering="crispEdges"/>
<line x1="637.50" y1="215.00" x2="637.50" y2="378.50" stroke="#000" stroke-width="1" stroke-dasharray="2 2" fill="none" shape-rendering="crispEdges"/>
<line x1="636.25" y1="214.67" x2="554.50" y2="356.26" stroke="#000" stroke-width="1.7" stroke-dasharray="1.9 2.5" fill="none" shape-rendering="crispEdges"/>
<line x1="635.33" y1="213.75" x2="493.74" y2="295.50" stroke="#000" stroke-width="1.7" stroke-dasharray="1.9 2.5" fill="none" shape-rendering="crispEdges"/>
<line x1="635.00" y1="212.50" x2="471.50" y2="212.50" stroke="#000" stroke-width="1" stroke-dasharray="2 2" fill="none" shape-rendering="crispEdges"/>
<line x1="635.33" y1="211.25" x2="493.74" y2="129.50" stroke="#000" stroke-width="1.7" stroke-dasharray="1.9 2.5" fill="none" shape-rendering="crispEdges"/>
<line x1="636.25" y1="210.33" x2="554.50" y2="68.74" stroke="#000" stroke-width="1.7" stroke-dasharray="1.9 2.5" fill="none" shape-rendering="crispEdges"/>
<g clip-path="url(#cn)"><rect x="40" y="40" width="345" height="345" fill="#00cc00" opacity="0.72" mask="url(#mn)"/></g>
<g clip-path="url(#cs)"><rect x="465" y="40" width="345" height="345" fill="#00cc00" opacity="0.72" mask="url(#ms)"/></g>
<rect x="42.5" y="42.5" width="340" height="340" fill="none" stroke="#606060" stroke-width="1.2"/>
<rect x="467.5" y="42.5" width="340.5" height="340" fill="none" stroke="#606060" stroke-width="1.2"/>
<g opacity="0.999">
<text x="212.3" y="212.0" font-size="16.3" text-anchor="middle" fill="#000" stroke="#000" stroke-width="0.75">90</text>
<text x="212.6" y="267.7" font-size="16.3" text-anchor="middle" fill="#000" stroke="#000" stroke-width="0.75">80</text>
<text x="213.2" y="323.0" font-size="16.3" text-anchor="middle" fill="#000" stroke="#000" stroke-width="0.75">70</text>
<text x="213.0" y="378.5" font-size="16.3" text-anchor="middle" fill="#000" stroke="#000" stroke-width="0.75">60</text>
<text x="208.0" y="295.9" font-size="16.3" text-anchor="middle" fill="#000" stroke="#000" stroke-width="0.75">0</text>
<text x="245.5" y="284.1" font-size="16.3" text-anchor="middle" fill="#000" stroke="#000" stroke-width="0.75">30</text>
<text x="275.3" y="254.4" font-size="16.3" text-anchor="middle" fill="#000" stroke="#000" stroke-width="0.75">60</text>
<text x="287.2" y="212.1" font-size="16.3" text-anchor="middle" fill="#000" stroke="#000" stroke-width="0.75">90</text>
<text x="271.2" y="170.6" font-size="16.3" text-anchor="middle" fill="#000" stroke="#000" stroke-width="0.75">120</text>
<text x="240.9" y="140.0" font-size="16.3" text-anchor="middle" fill="#000" stroke="#000" stroke-width="0.75">150</text>
<text x="199.3" y="128.8" font-size="16.3" text-anchor="middle" fill="#000" stroke="#000" stroke-width="0.75">180</text>
<text x="154.0" y="140.5" font-size="16.3" text-anchor="middle" fill="#000" stroke="#000" stroke-width="0.75">-150</text>
<text x="124.0" y="170.5" font-size="16.3" text-anchor="middle" fill="#000" stroke="#000" stroke-width="0.75">-120</text>
<text x="117.6" y="211.8" font-size="16.3" text-anchor="middle" fill="#000" stroke="#000" stroke-width="0.75">-90</text>
<text x="128.5" y="254.2" font-size="16.3" text-anchor="middle" fill="#000" stroke="#000" stroke-width="0.75">-60</text>
<text x="158.8" y="284.1" font-size="16.3" text-anchor="middle" fill="#000" stroke="#000" stroke-width="0.75">-30</text>
<line x1="208.8" y1="124.4" x2="220.6" y2="142.1" stroke="#ff0000" stroke-width="1.9" stroke-linecap="butt"/>
<line x1="208.8" y1="124.4" x2="204.5" y2="117.5" stroke="#ff0000" stroke-width="1.9" stroke-linecap="butt"/>
<line x1="208.8" y1="124.4" x2="198.2" y2="142.6" stroke="#0000ff" stroke-width="1.9" stroke-linecap="butt"/>
<line x1="208.8" y1="124.4" x2="213" y2="117.8" stroke="#0000ff" stroke-width="1.9" stroke-linecap="butt"/>
<circle cx="208.8" cy="124.4" r="6.0" fill="#0000ff"/>
<line x1="291.2" y1="173.6" x2="303.5" y2="155" stroke="#ff0000" stroke-width="1.9" stroke-linecap="butt"/>
<line x1="291.2" y1="173.6" x2="314.7" y2="177.4" stroke="#0000ff" stroke-width="1.9" stroke-linecap="butt"/>
<circle cx="291.2" cy="173.6" r="6.0" fill="#0000ff"/>
<line x1="296.5" y1="212.8" x2="277.6" y2="225.3" stroke="#ff0000" stroke-width="1.9"/>
<circle cx="296.5" cy="212.8" r="6" fill="#ff0000"/>
<line x1="296.5" y1="208.2" x2="277" y2="195.9" stroke="#0000ff" stroke-width="1.9" stroke-linecap="butt"/>
<circle cx="296.5" cy="208.2" r="6.0" fill="#0000ff"/>
<line x1="295.9" y1="238.5" x2="275.3" y2="243.8" stroke="#ff0000" stroke-width="1.9" stroke-linecap="butt"/>
<line x1="295.9" y1="238.5" x2="304.1" y2="236.2" stroke="#ff0000" stroke-width="1.9" stroke-linecap="butt"/>
<line x1="295.9" y1="238.5" x2="282.9" y2="221.8" stroke="#0000ff" stroke-width="1.9" stroke-linecap="butt"/>
<line x1="295.9" y1="238.5" x2="300.6" y2="243.8" stroke="#0000ff" stroke-width="1.9" stroke-linecap="butt"/>
<circle cx="295.9" cy="238.5" r="6.0" fill="#0000ff"/>
<line x1="221.8" y1="299" x2="237.3" y2="318.5" stroke="#ff0000" stroke-width="1.9" stroke-linecap="butt"/>
<line x1="221.8" y1="299" x2="210.2" y2="319.6" stroke="#0000ff" stroke-width="1.9" stroke-linecap="butt"/>
<circle cx="221.8" cy="299" r="6.0" fill="#0000ff"/>
<line x1="182.6" y1="291.4" x2="177.9" y2="269.6" stroke="#ff0000" stroke-width="1.9"/>
<circle cx="182.6" cy="291.4" r="6" fill="#ff0000"/>
<line x1="186.7" y1="292.6" x2="205.5" y2="279.3" stroke="#0000ff" stroke-width="1.9" stroke-linecap="butt"/>
<circle cx="186.7" cy="292.6" r="6.0" fill="#0000ff"/>
<line x1="124.9" y1="218.8" x2="111.4" y2="229.4" stroke="#ff0000" stroke-width="1.9" stroke-linecap="butt"/>
<line x1="124.9" y1="218.8" x2="136.1" y2="210.2" stroke="#ff0000" stroke-width="1.9" stroke-linecap="butt"/>
<line x1="124.9" y1="218.8" x2="110.2" y2="209.6" stroke="#0000ff" stroke-width="1.9" stroke-linecap="butt"/>
<line x1="124.9" y1="218.8" x2="136.7" y2="225.5" stroke="#0000ff" stroke-width="1.9" stroke-linecap="butt"/>
<circle cx="124.9" cy="218.8" r="6.0" fill="#0000ff"/>
<text x="637.7" y="46.2" font-size="16.3" text-anchor="middle" fill="#262626" stroke="#262626" stroke-width="0.42">-60</text>
<text x="638.2" y="101.5" font-size="16.3" text-anchor="middle" fill="#1e1e1e" stroke="#1e1e1e" stroke-width="0.55">-70</text>
<text x="637.6" y="156.6" font-size="16.3" text-anchor="middle" fill="#262626" stroke="#262626" stroke-width="0.42">-80</text>
<text x="637.8" y="212.3" font-size="16.3" text-anchor="middle" fill="#262626" stroke="#262626" stroke-width="0.42">-90</text>
<text x="633.5" y="129.1" font-size="16.3" text-anchor="middle" fill="#262626" stroke="#262626" stroke-width="0.42">0</text>
<text x="670.2" y="140.1" font-size="16.3" text-anchor="middle" fill="#262626" stroke="#262626" stroke-width="0.42">30</text>
<text x="700.8" y="170.7" font-size="16.3" text-anchor="middle" fill="#262626" stroke="#262626" stroke-width="0.42">60</text>
<text x="711.6" y="212.4" font-size="16.3" text-anchor="middle" fill="#262626" stroke="#262626" stroke-width="0.42">90</text>
<text x="697.2" y="254.0" font-size="16.3" text-anchor="middle" fill="#262626" stroke="#262626" stroke-width="0.42">120</text>
<text x="666.2" y="284.1" font-size="16.3" text-anchor="middle" fill="#262626" stroke="#262626" stroke-width="0.42">150</text>
<text x="624.1" y="295.9" font-size="16.3" text-anchor="middle" fill="#1e1e1e" stroke="#1e1e1e" stroke-width="0.55">180</text>
<text x="580.0" y="284.1" font-size="16.3" text-anchor="middle" fill="#1e1e1e" stroke="#1e1e1e" stroke-width="0.55">-150</text>
<text x="549.2" y="254.2" font-size="16.3" text-anchor="middle" fill="#1e1e1e" stroke="#1e1e1e" stroke-width="0.55">-120</text>
<text x="542.9" y="212.4" font-size="16.3" text-anchor="middle" fill="#1e1e1e" stroke="#1e1e1e" stroke-width="0.55">-90</text>
<text x="553.4" y="170.7" font-size="16.3" text-anchor="middle" fill="#262626" stroke="#262626" stroke-width="0.42">-60</text>
<text x="584.0" y="140.1" font-size="16.3" text-anchor="middle" fill="#1e1e1e" stroke="#1e1e1e" stroke-width="0.55">-30</text>
<line x1="660.1" y1="127.3" x2="653.5" y2="133.9" stroke="#ff0000" stroke-width="1.9" stroke-linecap="butt"/>
<line x1="660.1" y1="127.3" x2="675.8" y2="114.8" stroke="#ff0000" stroke-width="1.9" stroke-linecap="butt"/>
<line x1="660.1" y1="127.3" x2="654.2" y2="108.9" stroke="#0000ff" stroke-width="1.9" stroke-linecap="butt"/>
<line x1="660.1" y1="127.3" x2="664" y2="135.5" stroke="#0000ff" stroke-width="1.9" stroke-linecap="butt"/>
<circle cx="660.1" cy="127.3" r="6.0" fill="#0000ff"/>
<line x1="552.7" y1="191.4" x2="544.6" y2="182.6" stroke="#ff0000" stroke-width="1.9" stroke-linecap="butt"/>
<line x1="552.7" y1="191.4" x2="565.1" y2="204.9" stroke="#ff0000" stroke-width="1.9" stroke-linecap="butt"/>
<line x1="552.7" y1="191.4" x2="541.6" y2="196" stroke="#0000ff" stroke-width="1.9" stroke-linecap="butt"/>
<line x1="552.7" y1="191.4" x2="569.4" y2="185.4" stroke="#0000ff" stroke-width="1.9" stroke-linecap="butt"/>
<circle cx="552.7" cy="191.4" r="6.0" fill="#0000ff"/>
<line x1="550.1" y1="219.8" x2="531.7" y2="209.6" stroke="#ff0000" stroke-width="1.9" stroke-linecap="butt"/>
<line x1="550.1" y1="219.8" x2="558.8" y2="224.2" stroke="#ff0000" stroke-width="1.9" stroke-linecap="butt"/>
<line x1="550.1" y1="219.8" x2="534.8" y2="233.6" stroke="#0000ff" stroke-width="1.9" stroke-linecap="butt"/>
<line x1="550.1" y1="219.8" x2="557.6" y2="213.9" stroke="#0000ff" stroke-width="1.9" stroke-linecap="butt"/>
<circle cx="550.1" cy="219.8" r="6.0" fill="#0000ff"/>
<circle cx="724.6" cy="200.5" r="6" fill="#ff0000"/>
<line x1="724.1" y1="199.9" x2="702.3" y2="189.8" stroke="#ff0000" stroke-width="1.9" stroke-linecap="butt"/>
<line x1="724.1" y1="199.9" x2="707" y2="216.1" stroke="#0000ff" stroke-width="1.9" stroke-linecap="butt"/>
<circle cx="724.1" cy="199.9" r="6.0" fill="#0000ff"/>
<circle cx="722.3" cy="238.6" r="6" fill="#ff0000"/>
<line x1="723.5" y1="237.3" x2="738.3" y2="257.3" stroke="#ff0000" stroke-width="1.9" stroke-linecap="butt"/>
<line x1="723.5" y1="237.3" x2="747" y2="229.5" stroke="#0000ff" stroke-width="1.9" stroke-linecap="butt"/>
<circle cx="723.5" cy="237.3" r="6.0" fill="#0000ff"/>
<line x1="647.7" y1="299.1" x2="655.8" y2="282.6" stroke="#ff0000" stroke-width="1.9" stroke-linecap="butt"/>
<line x1="647.7" y1="299.1" x2="642.4" y2="310.1" stroke="#ff0000" stroke-width="1.9" stroke-linecap="butt"/>
<line x1="647.7" y1="299.1" x2="637" y2="286.6" stroke="#0000ff" stroke-width="1.9" stroke-linecap="butt"/>
<line x1="647.7" y1="299.1" x2="655.8" y2="308.5" stroke="#0000ff" stroke-width="1.9" stroke-linecap="butt"/>
<circle cx="647.7" cy="299.1" r="6.0" fill="#0000ff"/>
<text x="212.8" y="30.5" font-size="21.4" text-anchor="middle" fill="#606060" stroke="#606060" stroke-width="0.65">Northern Hemisphere</text>
<text x="638" y="30.5" font-size="21.4" text-anchor="middle" fill="#606060" stroke="#606060" stroke-width="0.65">Southern Hemisphere</text>
<text x="28.2" y="413.3" font-size="16.8" fill="#ff0000" stroke="#ff0000" stroke-width="0.6">Red line: AQUA</text>
<text x="254.6" y="413.3" font-size="16.8" fill="#0000ff" stroke="#0000ff" stroke-width="0.6">Blue line: METOP-C</text>
<text x="453" y="413.3" font-size="17.05" fill="#000" stroke="#000" stroke-width="0.7">TLE Epoch: 2023/2/3</text>
</g>
</svg>
</body></html>
